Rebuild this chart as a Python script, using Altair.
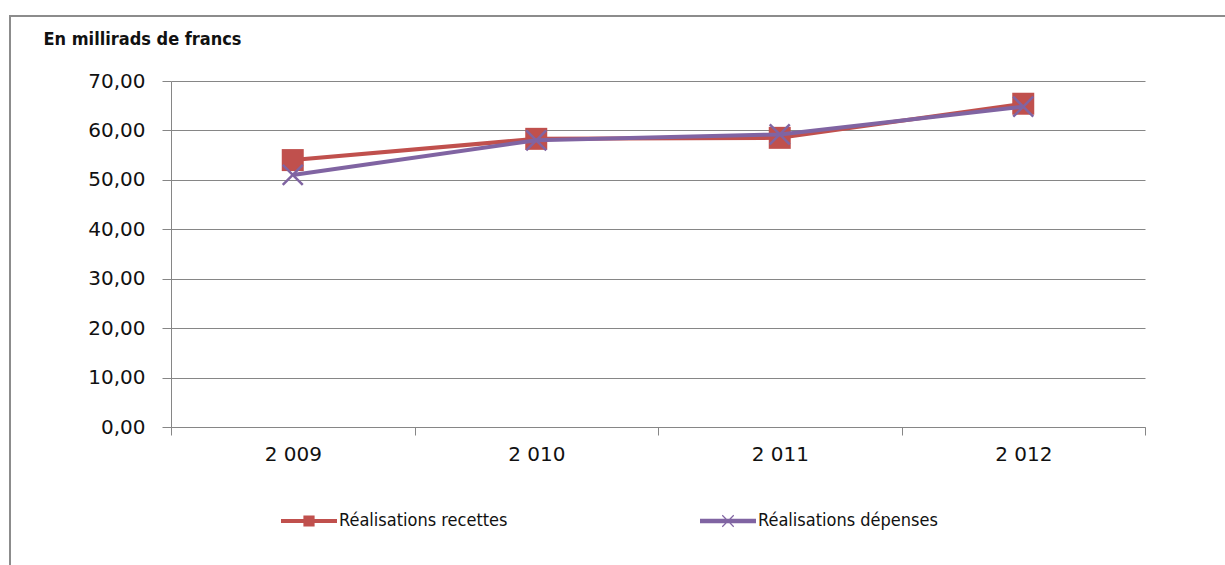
import altair as alt
import pandas as pd

# Values in billions of francs
years = ["2009", "2010", "2011", "2012"]
recettes = [54.0, 58.3, 58.5, 65.4]
depenses = [51.0, 58.0, 59.2, 64.8]
series_names = ["Réalisations recettes", "Réalisations dépenses"]
series_colors = ["#C0504D", "#8064A2"]
y_ticks = [0, 10, 20, 30, 40, 50, 60, 70]

df = pd.DataFrame(
    {
        "annee": years * 2,
        "valeur": recettes + depenses,
        "serie": [series_names[0]] * len(years) + [series_names[1]] * len(years),
    }
)

W, H = 974, 346
GRID = "#868686"
FONT = "DejaVu Sans"

x_enc = alt.X(
    "annee:N",
    sort=years,
    scale=alt.Scale(paddingInner=0, paddingOuter=0),
    axis=alt.Axis(
        title=None,
        labelAngle=0,
        labelExpr="slice(datum.label, 0, 1) + ' ' + slice(datum.label, 1)",
        labelFont=FONT,
        labelFontSize=20,
        labelColor="#111111",
        labelPadding=9,
        tickBand="extent",
        tickSize=8,
        tickColor=GRID,
        domainColor=GRID,
        grid=False,
    ),
)
y_enc = alt.Y(
    "valeur:Q",
    scale=alt.Scale(domain=[0, 70], nice=False),
    axis=alt.Axis(
        values=y_ticks,
        labelExpr="replace(format(datum.value, '.2f'), '.', ',')",
        labelFont=FONT,
        labelFontSize=20,
        labelColor="#111111",
        labelPadding=17,
        tickSize=9,
        tickColor=GRID,
        domainColor=GRID,
        gridColor=GRID,
        title="En millirads de francs",
        titleAngle=0,
        titleAlign="left",
        titleBaseline="alphabetic",
        titleX=-128,
        titleY=-37,
        titleFont="DejaVu Sans Condensed",
        titleFontSize=18,
        titleFontWeight="bold",
        titleColor="#111111",
    ),
)

color_scale = alt.Scale(domain=series_names, range=series_colors)

base = alt.Chart(df)
recettes_data = base.transform_filter(alt.datum.serie == series_names[0])
depenses_data = base.transform_filter(alt.datum.serie == series_names[1])

red_line = recettes_data.mark_line(strokeWidth=4, color=series_colors[0]).encode(
    x=x_enc, y=y_enc
)
red_pts = recettes_data.mark_point(
    shape="square", filled=True, size=484, opacity=1, color=series_colors[0]
).encode(x=x_enc, y=y_enc)
purple_line = depenses_data.mark_line(strokeWidth=4, color=series_colors[1]).encode(
    x=x_enc, y=y_enc
)
purple_pts = depenses_data.mark_point(
    shape="M-1,-1L1,1M-1,1L1,-1",
    filled=False,
    size=400,
    strokeWidth=2.5,
    opacity=1,
    color=series_colors[1],
).encode(x=x_enc, y=y_enc)

# Legend glyphs: a line with the series marker in the middle
legend_red = "M-1,-0.07H1V0.07H-1Z M-0.2,-0.2H0.2V0.2H-0.2Z"
legend_purple = (
    "M-1,-0.08H1V0.08H-1Z "
    "M-0.19,-0.22L0.22,0.19L0.19,0.22L-0.22,-0.19Z "
    "M0.22,-0.19L-0.19,0.22L-0.22,0.19L0.19,-0.22Z"
)

legend_props = dict(
    title=None,
    orient="none",
    direction="horizontal",
    legendX=110,
    legendY=412,
    symbolSize=3136,
    symbolOpacity=1,
    symbolStrokeWidth=0,
    labelFont="DejaVu Sans Condensed",
    labelFontSize=18,
    labelColor="#111111",
    labelOffset=2,
    labelLimit=0,
    columnPadding=192,
    padding=0,
)

legend_layer = base.mark_point(filled=True, opacity=0).encode(
    x=x_enc,
    y=y_enc,
    color=alt.Color("serie:N", scale=color_scale, legend=alt.Legend(**legend_props)),
    shape=alt.Shape(
        "serie:N",
        scale=alt.Scale(domain=series_names, range=[legend_red, legend_purple]),
        legend=alt.Legend(**legend_props),
    ),
)

frame = alt.Chart(alt.Data(values=[{"k": 1}])).mark_rect(
    fill=None, stroke="#8C8C8C", strokeWidth=2
).encode(
    x=alt.value(-161),
    x2=alt.value(1080),
    y=alt.value(-65),
    y2=alt.value(500),
)

chart = (
    alt.layer(frame, legend_layer, red_line, red_pts, purple_line, purple_pts)
    .resolve_scale(color="independent", shape="independent")
    .properties(
        width=W,
        height=H,
        autosize=alt.AutoSizeParams(type="none"),
        padding={"left": 171, "top": 81, "right": 80, "bottom": 138},
        background="white",
    )
    .configure_view(stroke=None)
)

chart.save("out.html", embed_options={"renderer": "svg", "actions": False})
